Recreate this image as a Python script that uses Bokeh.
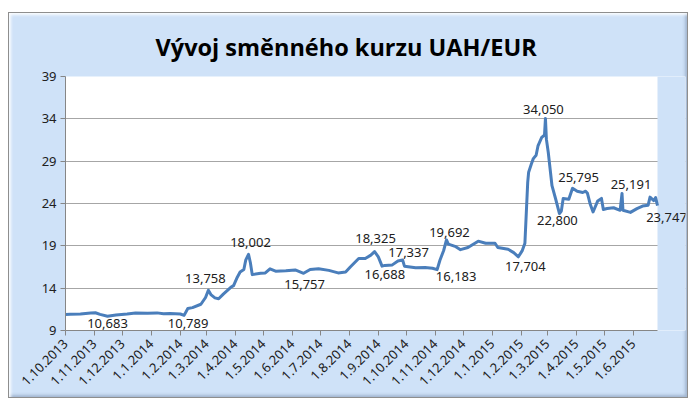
import pandas as pd
from bokeh.plotting import figure
from bokeh.models import ColumnDataSource, Range1d, FixedTicker, Label, BoxAnnotation
from bokeh.embed import file_html
from bokeh.resources import INLINE
from math import pi

# ---- data ----
dates = [
    "2013-10-01", "2013-10-06", "2013-10-17", "2013-10-28", "2013-11-02", "2013-11-07",
    "2013-11-15", "2013-11-24", "2013-12-06", "2013-12-15", "2013-12-28", "2014-01-07",
    "2014-01-14", "2014-01-21", "2014-02-01", "2014-02-05", "2014-02-09", "2014-02-14",
    "2014-02-23", "2014-02-28", "2014-03-03", "2014-03-06", "2014-03-10", "2014-03-14",
    "2014-03-19", "2014-03-27", "2014-03-30", "2014-04-03", "2014-04-06", "2014-04-10",
    "2014-04-12", "2014-04-15", "2014-04-17", "2014-04-19", "2014-04-28", "2014-05-03",
    "2014-05-08", "2014-05-14", "2014-05-25", "2014-06-04", "2014-06-13", "2014-06-20",
    "2014-06-29", "2014-07-10", "2014-07-20", "2014-07-28", "2014-08-02", "2014-08-11",
    "2014-08-18", "2014-08-24", "2014-08-28", "2014-09-01", "2014-09-05", "2014-09-08",
    "2014-09-16", "2014-09-22", "2014-09-27", "2014-09-29", "2014-10-11", "2014-10-21",
    "2014-10-29", "2014-11-03", "2014-11-06", "2014-11-10", "2014-11-13", "2014-11-15",
    "2014-11-23", "2014-11-28", "2014-12-06", "2014-12-17", "2014-12-25", "2015-01-04",
    "2015-01-07", "2015-01-18", "2015-01-24", "2015-01-29", "2015-02-02", "2015-02-05",
    "2015-02-08", "2015-02-09", "2015-02-12", "2015-02-14", "2015-02-17", "2015-02-19",
    "2015-02-23", "2015-02-25", "2015-02-26", "2015-02-27", "2015-02-28", "2015-03-02",
    "2015-03-06", "2015-03-10", "2015-03-14", "2015-03-16", "2015-03-18", "2015-03-24",
    "2015-03-28", "2015-04-02", "2015-04-08", "2015-04-11", "2015-04-13", "2015-04-16",
    "2015-04-19", "2015-04-24", "2015-04-28", "2015-04-30", "2015-05-04", "2015-05-11",
    "2015-05-18", "2015-05-20", "2015-05-21", "2015-05-29", "2015-06-05", "2015-06-11",
    "2015-06-17", "2015-06-19", "2015-06-23", "2015-06-25", "2015-06-27",
]
rates = [
    10.88, 10.92, 10.95, 11.08, 11.10, 10.90,
    10.683, 10.82, 10.95, 11.08, 11.05, 11.08,
    10.97, 11.00, 10.95, 10.789, 11.60, 11.70,
    12.10, 12.90, 13.758, 13.20, 12.85, 12.75,
    13.30, 14.10, 14.30, 15.30, 15.90, 16.20,
    17.30, 18.002, 17.00, 15.60, 15.75, 15.80,
    16.28, 16.00, 16.05, 16.15, 15.757, 16.20,
    16.30, 16.10, 15.80, 15.90, 16.50, 17.50,
    17.50, 17.90, 18.325, 17.70, 16.60, 16.688,
    16.75, 17.20, 17.337, 16.60, 16.40, 16.45,
    16.35, 16.183, 17.30, 18.45, 19.692, 19.20,
    18.90, 18.55, 18.80, 19.55, 19.30, 19.30,
    18.80, 18.60, 18.20, 17.704, 18.40, 19.30,
    26.50, 27.70, 28.70, 29.30, 29.70, 30.80,
    31.80, 32.00, 32.10, 34.050, 31.60, 30.05,
    26.10, 24.50, 22.800, 23.10, 24.60, 24.50,
    25.795, 25.45, 25.30, 25.45, 25.20, 23.90,
    23.00, 24.30, 24.60, 23.30, 23.40, 23.50,
    23.20, 25.191, 23.20, 22.95, 23.40, 23.70,
    23.80, 24.75, 24.35, 24.70, 23.747,
]

label_dates = ["2013-11-15", "2014-02-05", "2014-03-03", "2014-04-15", "2014-06-13",
               "2014-08-28", "2014-09-08", "2014-09-27", "2014-11-03", "2014-11-13",
               "2015-01-29", "2015-02-27", "2015-03-14", "2015-03-28", "2015-05-20",
               "2015-06-27"]
label_values = [10.683, 10.789, 13.758, 18.002, 15.757, 18.325, 16.688, 17.337, 16.183,
                19.692, 17.704, 34.050, 22.800, 25.795, 25.191, 23.747]

month_ticks = ["1.10.2013", "1.11.2013", "1.12.2013", "1.1.2014", "1.2.2014", "1.3.2014",
               "1.4.2014", "1.5.2014", "1.6.2014", "1.7.2014", "1.8.2014", "1.9.2014",
               "1.10.2014", "1.11.2014", "1.12.2014", "1.1.2015", "1.2.2015", "1.3.2015",
               "1.4.2015", "1.5.2015", "1.6.2015"]
y_ticks = [9, 14, 19, 24, 29, 34, 39]

# ---- styles (label placement offsets in pixels) ----
lab_dx = [0, 4, -3, 2, 1, 1, 0, 6, 19, 3, 7, -2, -2, 6, 9, 9]
lab_dy = [-7, -8, 12, 12, -11, 13, -9, 7, -7, 7, -10, 9, -7, 11, 9, -12]

BG = "#cfe2f8"
PLOT_W = 592      # white plot area width in px
FRAME_W = 620     # frame width (extra room on the right for the last data label)

src = ColumnDataSource(dict(x=pd.to_datetime(dates), y=rates))

tick_ts = pd.to_datetime(month_ticks, format="%d.%m.%Y")
tick_ms = [int(t.value // 10**6) for t in tick_ts]

x_start = pd.Timestamp(dates[0])
x_end = pd.Timestamp(dates[-1])
frame_end = x_start + (x_end - x_start) * (FRAME_W / PLOT_W)

p = figure(width=680, height=386, x_axis_type="datetime",
           title="Vývoj směnného kurzu UAH/EUR",
           output_backend="svg", toolbar_location=None,
           min_border_left=57, min_border_right=680 - 57 - FRAME_W,
           min_border_top=64, min_border_bottom=68)

p.x_range = Range1d(x_start, frame_end)
p.y_range = Range1d(9, 39)

p.border_fill_alpha = 0
p.background_fill_color = "white"
p.outline_line_color = None
p.styles = {
    "margin-left": "8px",
    "margin-top": "12px",
    "background": BG,
    "box-shadow": "inset 0 0 0 1px #8e8e8e, inset 3px 3px 3px rgba(255,255,255,0.9), inset -3px -3px 3px rgba(120,140,170,0.5)",
}

p.title.align = "left"
p.title.offset = 90
p.title.text_font = "Open Sans"
p.title.text_font_style = "bold"
p.title.text_font_size = "23.5px"
p.title.text_color = "black"
p.title.standoff = 28

# axes
p.xaxis.ticker = FixedTicker(ticks=tick_ms)
p.xaxis.major_label_overrides = {ms: lab for ms, lab in zip(tick_ms, month_ticks)}
p.xaxis.major_label_orientation = pi / 4
p.xaxis.minor_tick_line_color = None
p.xaxis.bounds = (x_start.value / 1e6, x_end.value / 1e6)
p.yaxis.ticker = FixedTicker(ticks=y_ticks)
p.yaxis.minor_tick_line_color = None
for ax in (p.xaxis, p.yaxis):
    ax.axis_line_color = "#868686"
    ax.major_tick_line_color = "#868686"
    ax.major_tick_in = 0
    ax.major_tick_out = 5
    ax.major_label_text_font = "Noto Sans"
    ax.major_label_text_font_size = "13px"
    ax.major_label_text_color = "#202020"
    ax.major_label_standoff = 4
p.xaxis.major_label_standoff = 6

p.xgrid.grid_line_color = None
p.ygrid.grid_line_color = "#a6a6a6"
p.ygrid.ticker = FixedTicker(ticks=y_ticks)

# background colour to the right of the white plot area
p.add_layout(BoxAnnotation(left=x_end.value / 1e6, fill_color=BG, fill_alpha=1,
                           line_color=None, level="underlay"))

p.line("x", "y", source=src, line_color="#4a7ebb", line_width=3, line_join="round")

for d, v, dx, dy in zip(label_dates, label_values, lab_dx, lab_dy):
    p.add_layout(Label(x=pd.Timestamp(d).value / 1e6, y=v,
                       text=f"{v:.3f}".replace(".", ","),
                       x_offset=dx, y_offset=dy,
                       text_align="center", text_baseline="middle",
                       text_font="Noto Sans", text_font_size="13px",
                       text_color="#202020"))

open("out.html", "w").write(file_html(p, INLINE))
